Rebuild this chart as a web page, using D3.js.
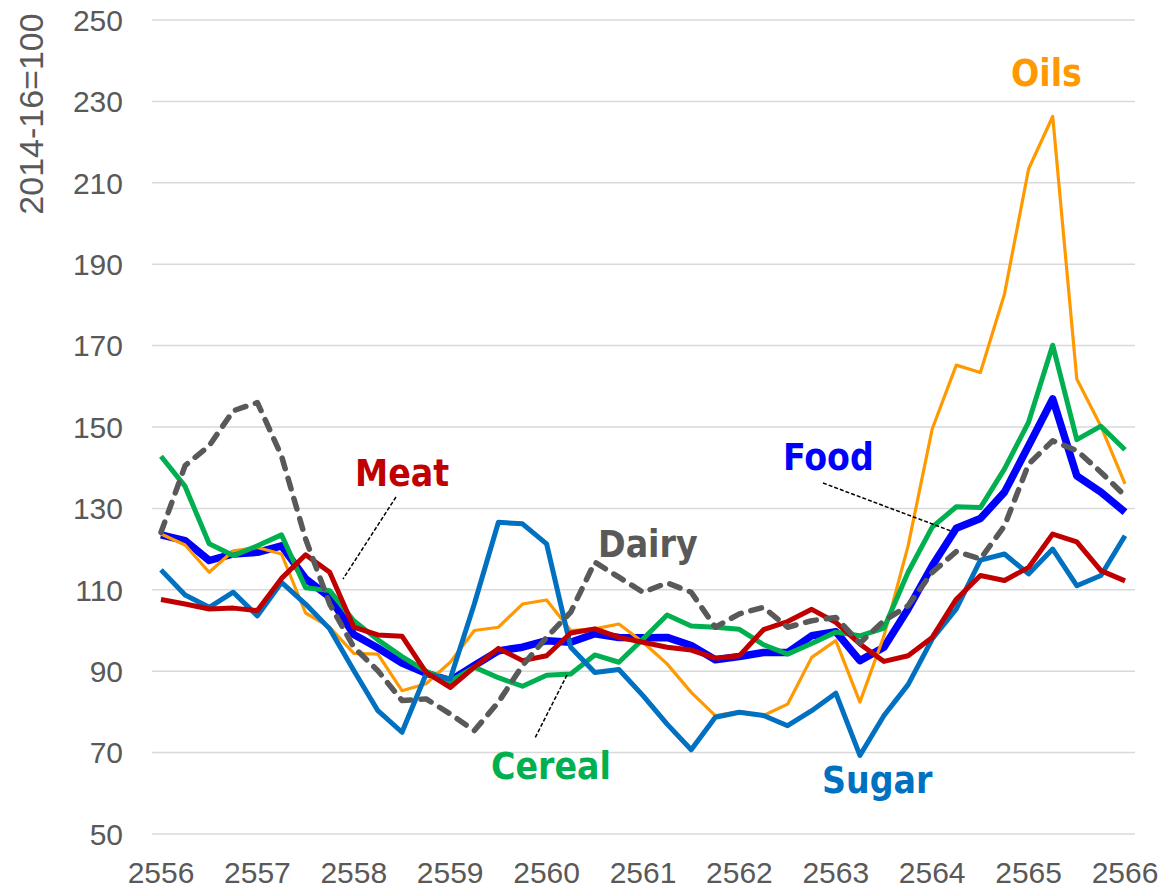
<!DOCTYPE html>
<html>
<head>
<meta charset="utf-8">
<script src="https://cdn.jsdelivr.net/npm/d3@7"></script>
<style>
  body { margin: 0; background: #fff; }
  .tick-label { font-family: "Liberation Sans", Arial, sans-serif; fill: #595959; }
  .series-label { font-family: "DejaVu Sans Condensed", "DejaVu Sans", sans-serif; font-stretch: condensed; font-weight: bold; }
</style>
</head>
<body>
<div id="chart"></div>
<script>
// Year labels on the x axis (quarterly data, 41 points)
var years = [2556, 2557, 2558, 2559, 2560, 2561, 2562, 2563, 2564, 2565, 2566];
var yTicks = [50, 70, 90, 110, 130, 150, 170, 190, 210, 230, 250];

// Indices, 2014-16=100
var food = [123.5, 122.1, 117.2, 118.8, 119.2, 120.8, 112.7, 108.2, 99.0, 95.7,
            92.0, 89.5, 87.7, 91.4, 95.0, 95.9, 97.5, 97.1, 99.2, 98.3,
            98.2, 98.3, 96.3, 92.8, 93.6, 94.6, 94.6, 98.7, 99.7, 92.6,
            95.9, 105.3, 115.9, 125.1, 127.5, 134.0, 145.4, 156.9, 138.0, 134.0, 129.1];
var cereal = [142.8, 135.4, 121.3, 118.4, 120.8, 123.5, 110.5, 109.8, 102.4, 97.7,
              93.6, 90.0, 87.5, 91.0, 88.4, 86.3, 89.0, 89.3, 94.0, 92.2,
              97.9, 103.8, 101.1, 100.8, 100.3, 96.5, 94.2, 96.8, 99.6, 98.7,
              100.6, 114.3, 125.4, 130.4, 130.2, 139.7, 151.2, 170.1, 146.9, 150.2, 144.4];
var meat = [107.6, 106.5, 105.3, 105.5, 104.9, 112.8, 118.6, 114.3, 100.8, 98.9,
            98.6, 89.7, 86.0, 91.0, 95.6, 92.6, 93.8, 99.4, 100.4, 98.3,
            97.1, 95.9, 95.2, 93.2, 93.8, 100.2, 102.2, 105.2, 102.0, 96.7,
            92.4, 93.8, 98.3, 107.7, 113.5, 112.3, 115.5, 123.7, 121.8, 114.7, 112.2];
var dairy = [124.1, 140.5, 145.4, 154.0, 156.0, 142.9, 122.5, 106.5, 95.9, 90.1,
             82.8, 83.2, 79.5, 75.4, 82.4, 91.4, 98.3, 104.5, 116.8, 113.1,
             109.4, 111.7, 109.4, 100.8, 104.1, 105.7, 100.8, 102.4, 103.2, 96.9,
             102.4, 106.1, 114.3, 119.4, 117.6, 125.7, 140.9, 146.6, 144.2, 138.9, 133.1];
var oils = [123.7, 121.0, 114.3, 119.6, 120.4, 118.8, 104.3, 100.8, 94.4, 94.2,
            85.2, 86.9, 92.2, 100.0, 100.8, 106.5, 107.5, 100.0, 100.4, 101.6,
            97.1, 91.8, 84.8, 79.1, 80.1, 79.1, 81.9, 93.4, 97.5, 82.4,
            98.7, 120.8, 149.5, 165.2, 163.4, 182.7, 213.4, 226.3, 161.8, 150.2, 136.0];
var sugar = [114.9, 108.7, 105.7, 109.4, 103.6, 111.8, 106.5, 100.4, 90.2, 80.3,
             75.0, 89.3, 88.1, 106.5, 126.6, 126.2, 121.3, 95.9, 89.7, 90.4,
             84.0, 77.0, 70.7, 78.7, 79.9, 79.1, 76.6, 80.3, 84.6, 69.3,
             79.1, 86.7, 97.9, 105.3, 117.3, 118.8, 113.9, 120.0, 111.0, 113.5, 123.3];

var width = 1165, height = 895;

var svg = d3.select('#chart')
    .append('svg')
    .attr('width', width)
    .attr('height', height);

// Scales: quarter index on x, index value on y
var x = d3.scaleLinear()
    .domain([0, (years.length - 1) * 4])
    .range([161, 1125]);

var y = d3.scaleLinear()
    .domain([50, 250])
    .range([834, 20]);

// Gridlines
svg.append('g')
    .selectAll('line')
    .data(yTicks)
    .enter()
    .append('line')
    .attr('x1', 152)
    .attr('x2', 1135)
    .attr('y1', function(d) { return y(d); })
    .attr('y2', function(d) { return y(d); })
    .attr('stroke', '#d9d9d9')
    .attr('stroke-width', 1.5);

// Y tick labels
svg.append('g')
    .selectAll('text')
    .data(yTicks)
    .enter()
    .append('text')
    .classed('tick-label', true)
    .attr('x', 123)
    .attr('y', function(d) { return y(d); })
    .attr('dy', '0.36em')
    .attr('text-anchor', 'end')
    .style('font-size', '30px')
    .text(function(d) { return d; });

// X tick labels (one per year)
svg.append('g')
    .selectAll('text')
    .data(years)
    .enter()
    .append('text')
    .classed('tick-label', true)
    .attr('x', function(d, i) { return x(i * 4); })
    .attr('y', 883)
    .attr('text-anchor', 'middle')
    .style('font-size', '30px')
    .text(function(d) { return d; });

// Axis title
svg.append('text')
    .classed('tick-label', true)
    .attr('transform', 'translate(43, 114) rotate(-90)')
    .attr('text-anchor', 'middle')
    .style('font-size', '34px')
    .text('2014-16=100');

// Lines
var lineGen = d3.line()
    .x(function(d, i) { return x(i); })
    .y(function(d) { return y(d); });

var series = [
    { name: 'Food', values: food, color: '#0000ff', width: 7.5 },
    { name: 'Oils', values: oils, color: '#ff9900', width: 3.2 },
    { name: 'Cereal', values: cereal, color: '#00b050', width: 5 },
    { name: 'Sugar', values: sugar, color: '#0070c0', width: 5 },
    { name: 'Meat', values: meat, color: '#c00000', width: 5 },
    { name: 'Dairy', values: dairy, color: '#595959', width: 5.5, dash: '11,10' }
];

svg.append('g')
    .selectAll('path')
    .data(series)
    .enter()
    .append('path')
    .attr('d', function(d) { return lineGen(d.values); })
    .attr('fill', 'none')
    .attr('stroke', function(d) { return d.color; })
    .attr('stroke-width', function(d) { return d.width; })
    .attr('stroke-linejoin', 'round')
    .attr('stroke-linecap', function(d) { return d.dash ? 'round' : 'butt'; })
    .attr('stroke-dasharray', function(d) { return d.dash || null; });

// Leader lines for labels
var leaders = [
    [396, 497, 343, 579],
    [567, 675, 535, 738],
    [823, 483, 951, 531]
];
svg.append('g')
    .selectAll('line')
    .data(leaders)
    .enter()
    .append('line')
    .attr('x1', function(d) { return d[0]; })
    .attr('y1', function(d) { return d[1]; })
    .attr('x2', function(d) { return d[2]; })
    .attr('y2', function(d) { return d[3]; })
    .attr('stroke', '#000')
    .attr('stroke-width', 1.5)
    .attr('stroke-dasharray', '4,2');

// Series labels
var labels = [
    { text: 'Oils', x: 1011, y: 86, color: '#ff9900' },
    { text: 'Food', x: 783, y: 470, color: '#0000ff' },
    { text: 'Meat', x: 355, y: 486, color: '#c00000' },
    { text: 'Dairy', x: 598, y: 557, color: '#595959' },
    { text: 'Cereal', x: 491, y: 779, color: '#00b050' },
    { text: 'Sugar', x: 822, y: 793, color: '#0070c0' }
];
svg.append('g')
    .selectAll('text')
    .data(labels)
    .enter()
    .append('text')
    .classed('series-label', true)
    .attr('x', function(d) { return d.x; })
    .attr('y', function(d) { return d.y; })
    .attr('fill', function(d) { return d.color; })
    .style('font-size', '37px')
    .text(function(d) { return d.text; });
</script>
</body>
</html>
